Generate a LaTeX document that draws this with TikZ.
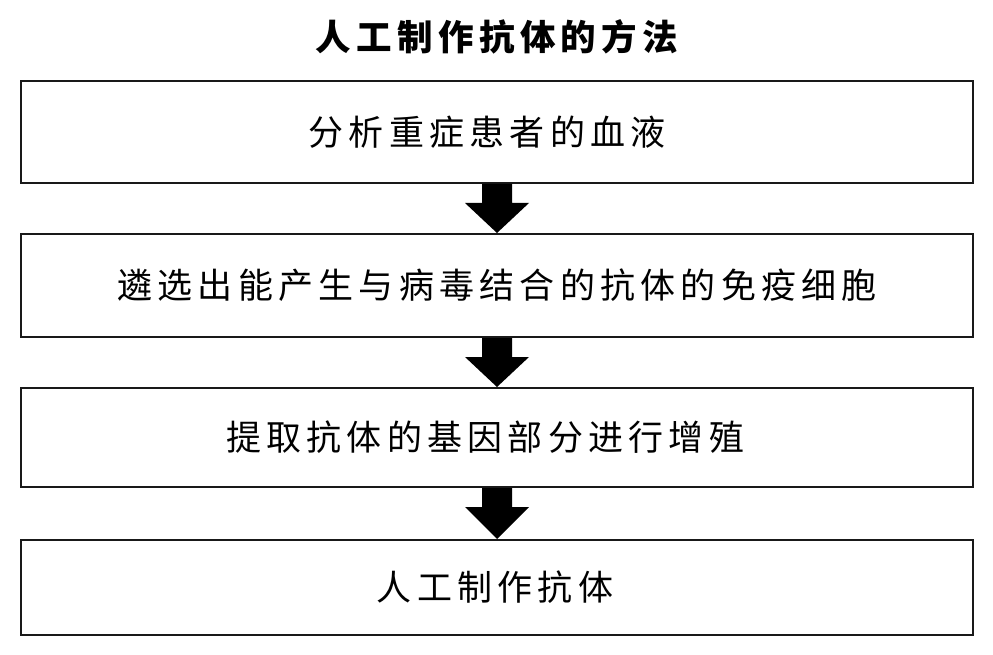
\documentclass[tikz,border=0pt]{standalone}
\usepackage{fontspec}
\setmainfont{Noto Sans CJK SC}
\newfontfamily\boxfont[LetterSpace=15]{Noto Sans CJK SC}
\usetikzlibrary{calc}
\begin{document}
\begin{tikzpicture}[x=1pt,y=-1pt,
  stepbox/.style={draw=black!90,line width=2pt,fill=white,minimum width=952pt,inner sep=0pt,font=\boxfont\fontsize{35}{40}\selectfont},
  blockarrow/.style={fill=black,draw=none}]
\useasboundingbox (0,0) rectangle (993,655);
\node[font=\boxfont\fontsize{35.5}{40}\selectfont\bfseries] (title) at (497,37) {人工制作抗体的方法};
\node[stepbox,minimum height=102pt] (b1) at (497,132) {分析重症患者的血液\hspace*{20pt}};
\node[stepbox,minimum height=103pt] (b2) at (497,285.5) {遴选出能产生与病毒结合的抗体的免疫细胞};
\node[stepbox,minimum height=99pt] (b3) at (497,437.5) {提取抗体的基因部分进行增殖\hspace*{24pt}};
\node[stepbox,minimum height=95pt] (b4) at (497,587.5) {人工制作抗体\hspace*{4pt}};
\foreach \a/\b in {b1/b2,b2/b3,b3/b4}{
  \path let \p1=(\a.south), \p2=(\b.north) in
    [blockarrow] (\x1-15,\y1) -- (\x1+15,\y1) -- (\x1+15,\y1-19) -- (\x1+32,\y1-19) -- (\x2,\y2) -- (\x1-32,\y1-19) -- (\x1-15,\y1-19) -- cycle;
}
\end{tikzpicture}
\end{document}
